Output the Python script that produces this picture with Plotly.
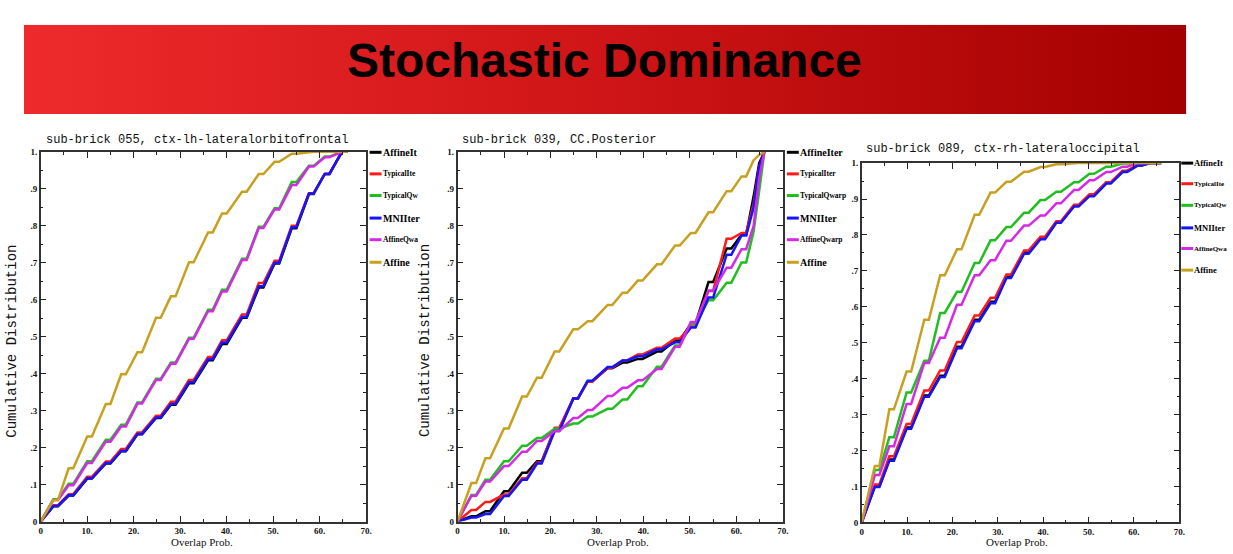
import plotly.graph_objects as go

# ---------------- data ----------------
series_names = ["AffineIter", "TypicalIter", "TypicalQwarp", "MNIIter", "AffineQwarp", "Affine"]
series_colors = ["#000000", "#ff1a1a", "#1fbf1f", "#1414ff", "#d42ae6", "#c8a020"]

panel_titles = ["sub-brick 055, ctx-lh-lateralorbitofrontal",
                "sub-brick 039, CC.Posterior",
                "sub-brick 089, ctx-rh-lateraloccipital"]

x_tick_vals = [0, 10, 20, 30, 40, 50, 60, 70]
x_tick_text = ["0", "10.", "20.", "30.", "40.", "50.", "60.", "70."]
y_tick_vals = [0, 0.1, 0.2, 0.3, 0.4, 0.5, 0.6, 0.7, 0.8, 0.9, 1.0]
y_tick_text = ["0", ".1", ".2", ".3", ".4", ".5", ".6", ".7", ".8", ".9", "1."]

x_end = 66.0

# panel 1 : sub-brick 055
knots1 = [3.2, 6.5, 10.5, 14.5, 17.8, 21.3, 25.3, 28.5, 32.4, 36.5, 39.5, 43.8, 47.4, 50.8, 54.5, 58.2, 61.6, 65.3]
width1 = [1.0] * len(knots1)
p1_affineiter   = [0.041, 0.070, 0.116, 0.157, 0.190, 0.236, 0.280, 0.316, 0.374, 0.436, 0.480, 0.551, 0.633, 0.698, 0.793, 0.886, 0.940, 1.0]
p1_typicaliter  = [0.044, 0.074, 0.121, 0.162, 0.196, 0.241, 0.286, 0.324, 0.383, 0.445, 0.490, 0.560, 0.645, 0.705, 0.800, 0.888, 0.940, 1.0]
p1_typicalqwarp = [0.060, 0.102, 0.163, 0.221, 0.262, 0.322, 0.386, 0.430, 0.497, 0.573, 0.627, 0.711, 0.797, 0.847, 0.918, 0.962, 0.987, 1.0]
p1_mniiter      = [0.042, 0.071, 0.117, 0.158, 0.191, 0.237, 0.281, 0.318, 0.377, 0.439, 0.484, 0.553, 0.636, 0.700, 0.796, 0.887, 0.940, 1.0]
p1_affineqwarp  = [0.058, 0.098, 0.158, 0.216, 0.257, 0.319, 0.383, 0.427, 0.494, 0.569, 0.622, 0.707, 0.794, 0.844, 0.910, 0.960, 0.985, 1.0]
p1_affine       = [0.058, 0.144, 0.230, 0.318, 0.398, 0.458, 0.551, 0.609, 0.701, 0.782, 0.833, 0.892, 0.940, 0.973, 0.995, 1.0, 1.0, 1.0]

# panel 2 : sub-brick 039
knots2 = [3.5, 6.5, 10.5, 14.4, 17.6, 21.4, 25.4, 28.5, 32.8, 36.0, 39.3, 43.4, 47.3, 50.7, 54.5, 58.4, 61.6, 63.7, 64.9]
width2 = [1.0] * 17 + [0.0, 0.0]
p2_affineiter   = [0.014, 0.028, 0.082, 0.132, 0.163, 0.248, 0.333, 0.379, 0.415, 0.430, 0.440, 0.460, 0.490, 0.535, 0.648, 0.739, 0.776, 0.880, 0.970]
p2_typicaliter  = [0.031, 0.053, 0.073, 0.117, 0.160, 0.254, 0.333, 0.379, 0.416, 0.436, 0.452, 0.470, 0.495, 0.528, 0.624, 0.765, 0.781, 0.860, 0.960]
p2_typicalqwarp = [0.072, 0.113, 0.163, 0.205, 0.226, 0.251, 0.265, 0.284, 0.305, 0.330, 0.366, 0.419, 0.476, 0.535, 0.599, 0.646, 0.701, 0.785, 0.895]
p2_mniiter      = [0.011, 0.020, 0.069, 0.113, 0.157, 0.245, 0.333, 0.381, 0.418, 0.436, 0.447, 0.466, 0.485, 0.525, 0.606, 0.722, 0.774, 0.850, 0.960]
p2_affineqwarp  = [0.070, 0.108, 0.150, 0.189, 0.218, 0.245, 0.280, 0.302, 0.340, 0.362, 0.382, 0.413, 0.473, 0.540, 0.625, 0.687, 0.737, 0.800, 0.930]
p2_affine       = [0.104, 0.171, 0.252, 0.338, 0.389, 0.460, 0.520, 0.542, 0.586, 0.619, 0.652, 0.696, 0.747, 0.781, 0.837, 0.894, 0.934, 0.978, 0.992]

# panel 3 : sub-brick 089
knots3 = [3.4, 6.6, 10.4, 14.3, 17.8, 21.5, 25.4, 28.9, 32.4, 36.3, 39.9, 43.4, 47.3, 50.7, 54.4, 58.0, 61.3, 64.0]
width3 = [1.0] * len(knots3)
p3_affineiter   = [0.101, 0.175, 0.264, 0.353, 0.408, 0.489, 0.564, 0.614, 0.684, 0.751, 0.790, 0.836, 0.881, 0.910, 0.945, 0.977, 0.994, 1.0]
p3_typicaliter  = [0.106, 0.184, 0.274, 0.367, 0.423, 0.502, 0.576, 0.625, 0.690, 0.757, 0.795, 0.838, 0.884, 0.913, 0.947, 0.979, 0.995, 1.0]
p3_typicalqwarp = [0.146, 0.237, 0.362, 0.450, 0.583, 0.642, 0.722, 0.785, 0.822, 0.862, 0.897, 0.920, 0.947, 0.970, 0.990, 0.999, 1.0, 1.0]
p3_mniiter      = [0.099, 0.172, 0.261, 0.350, 0.405, 0.485, 0.560, 0.610, 0.680, 0.748, 0.788, 0.834, 0.879, 0.908, 0.943, 0.975, 0.993, 1.0]
p3_affineqwarp  = [0.132, 0.212, 0.330, 0.444, 0.514, 0.606, 0.688, 0.730, 0.784, 0.826, 0.854, 0.888, 0.925, 0.952, 0.975, 0.990, 1.0, 1.0]
p3_affine       = [0.157, 0.315, 0.420, 0.564, 0.688, 0.760, 0.856, 0.918, 0.948, 0.976, 0.989, 0.997, 1.0, 1.0, 1.0, 1.0, 1.0, 1.0]

legend_labels = [
    ["AffineIt", "TypicalIte", "TypicalQw", "MNIIter", "AffineQwa", "Affine"],
    ["AffineIter", "TypicalIter", "TypicalQwarp", "MNIIter", "AffineQwarp", "Affine"],
    ["AffineIt", "TypicalIte", "TypicalQw", "MNIIter", "AffineQwa", "Affine"],
]

panels = [
    (knots1, width1, [p1_affineiter, p1_typicaliter, p1_typicalqwarp, p1_mniiter, p1_affineqwarp, p1_affine]),
    (knots2, width2, [p2_affineiter, p2_typicaliter, p2_typicalqwarp, p2_mniiter, p2_affineqwarp, p2_affine]),
    (knots3, width3, [p3_affineiter, p3_typicaliter, p3_typicalqwarp, p3_mniiter, p3_affineqwarp, p3_affine]),
]

# ---------------- layout geometry (pixels) ----------------
W, H = 1233, 554
frames = [(39.0, 366.5, 149.5, 526.0),
          (458.5, 786.0, 149.7, 526.0),
          (865.3, 1185.0, 161.0, 527.0)]
title_pos = [(42, 137), (461, 137), (868, 147)]
legend_x = [370, 790, 1187]
legend_y = [[150, 172, 194, 217, 239, 262],
            [150, 172, 194, 217, 239, 262],
            [161, 182, 204, 227, 248, 270]]
legend_big = [True, False, False, True, False, True]
legend_size = [(10, 7.5), (10, 7.5), (8.5, 7)]
ylabel_x = [10, 426, None]
xlabel_cx = [201, 620, 1022]


def fx(p):
    return p / W


def fy(p):
    return (H - p) / H


def stairs(knots, widths, vals):
    xs, ys = [0.0], [0.0]
    for k, w, v in zip(knots, widths, vals):
        if w > 0:
            xs += [k - w / 2, k + w / 2]
            ys += [v, v]
        else:
            xs.append(k)
            ys.append(v)
    xs.append(x_end)
    ys.append(1.0)
    return xs, ys


fig = go.Figure()

# banner with horizontal colour gradient
fig.add_trace(go.Scatter(x=[0, 1, 1, 0, 0], y=[0, 0, 1, 1, 0], fill="toself", mode="lines",
                         line=dict(width=0),
                         fillgradient=dict(type="horizontal",
                                           colorscale=[[0, "#ee2a2c"], [0.5, "#cf1517"], [1, "#a30000"]]),
                         xaxis="x4", yaxis="y4", hoverinfo="skip", showlegend=False))

for i, (knots, widths, vals_list) in enumerate(panels):
    xa = "x" if i == 0 else f"x{i+1}"
    ya = "y" if i == 0 else f"y{i+1}"
    for name, color, vals in zip(series_names, series_colors, vals_list):
        xs, ys = stairs(knots, widths, vals)
        fig.add_trace(go.Scatter(x=xs, y=ys, mode="lines", name=name,
                                 line=dict(color=color, width=2.5),
                                 xaxis=xa, yaxis=ya, showlegend=False, hoverinfo="skip"))

tickfont = dict(family="Liberation Serif", size=9, color="#111111", weight="bold")
layout_axes = {}
for i, (l, r, t, b) in enumerate(frames):
    sx = "" if i == 0 else str(i + 1)
    layout_axes[f"xaxis{sx}"] = dict(
        domain=[fx(l), fx(r)], range=[0, 70], anchor=f"y{sx}",
        tickmode="array", tickvals=x_tick_vals, ticktext=x_tick_text,
        ticks="inside", ticklen=6, tickwidth=1, tickcolor="#222222",
        minor=dict(tickmode="linear", tick0=0, dtick=5, ticks="inside", ticklen=3, tickcolor="#222222"),
        showline=True, linecolor="#333333", linewidth=1.5, mirror="ticks",
        showgrid=False, zeroline=False, tickfont=tickfont, fixedrange=True)
    layout_axes[f"yaxis{sx}"] = dict(
        domain=[fy(b), fy(t)], range=[0, 1], anchor=f"x{sx}",
        tickmode="array", tickvals=y_tick_vals, ticktext=y_tick_text,
        ticks="inside", ticklen=6, tickwidth=1, tickcolor="#222222",
        minor=dict(tickmode="linear", tick0=0, dtick=0.05, ticks="inside", ticklen=3, tickcolor="#222222"),
        showline=True, linecolor="#333333", linewidth=1.5, mirror="ticks",
        showgrid=False, zeroline=False, tickfont=tickfont, fixedrange=True)

layout_axes["xaxis4"] = dict(domain=[fx(22), fx(1192)], range=[0, 1], visible=False, anchor="y4", fixedrange=True)
layout_axes["yaxis4"] = dict(domain=[fy(111), fy(20)], range=[0, 1], visible=False, anchor="x4", fixedrange=True)

annotations = [dict(text="Stochastic Dominance", x=fx(606), y=fy(57), xref="paper", yref="paper",
                    showarrow=False, xanchor="center", yanchor="middle",
                    font=dict(family="Liberation Sans", size=48, color="#000000", weight="bold"))]
shapes = []

for i in range(3):
    tx, ty = title_pos[i]
    annotations.append(dict(text=panel_titles[i], x=fx(tx), y=fy(ty), xref="paper", yref="paper",
                            showarrow=False, xanchor="left", yanchor="middle",
                            font=dict(family="Liberation Mono", size=12, color="#111111")))
    big, small = legend_size[i]
    for j in range(6):
        ly = legend_y[i][j]
        shapes.append(dict(type="line", xref="paper", yref="paper",
                           x0=fx(legend_x[i]), x1=fx(legend_x[i] + 12), y0=fy(ly), y1=fy(ly),
                           line=dict(color=series_colors[j], width=3)))
        annotations.append(dict(text=legend_labels[i][j], x=fx(legend_x[i] + 12), y=fy(ly),
                                xref="paper", yref="paper", showarrow=False,
                                xanchor="left", yanchor="middle", borderpad=0,
                                font=dict(family="Liberation Serif", size=big if legend_big[j] else small,
                                          color="#000000", weight="bold")))
    if ylabel_x[i] is not None:
        annotations.append(dict(text="Cumulative Distribution", x=fx(ylabel_x[i]), y=fy(342),
                                xref="paper", yref="paper", showarrow=False, textangle=-90,
                                xanchor="center", yanchor="middle", borderpad=0,
                                font=dict(family="Liberation Mono", size=14, color="#111111")))
    annotations.append(dict(text="Overlap Prob.", x=fx(xlabel_cx[i]), y=0,
                            xref="paper", yref="paper", showarrow=False,
                            xanchor="center", yanchor="bottom", borderpad=0,
                            font=dict(family="Liberation Serif", size=11, color="#111111")))

fig.update_layout(width=W, height=H, margin=dict(l=0, r=0, t=0, b=0),
                  paper_bgcolor="white", plot_bgcolor="white", showlegend=False,
                  annotations=annotations, shapes=shapes, **layout_axes)

fig.write_html("out.html")
